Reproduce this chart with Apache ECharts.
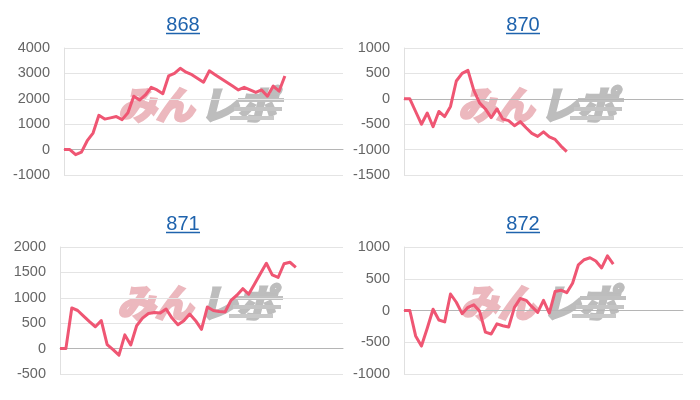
<!DOCTYPE html>
<html>
<head>
<meta charset="utf-8">
<script src="https://cdn.jsdelivr.net/npm/echarts@6/dist/echarts.min.js"></script>
<style>
html,body{margin:0;padding:0;background:#fff;}
#chart{width:700px;height:400px;}
</style>
</head>
<body>
<div id="chart"></div>
<script>
// ---- data ----
const categories = ['1','2','3','4','5','6','7','8','9','10','11','12','13','14','15','16','17','18','19','20','21','22','23','24','25','26','27','28','29','30','31','32','33','34','35','36','37','38','39','40','41','42','43','44','45','46','47','48','49'];
const titles = ['868', '870', '871', '872'];
const series868 = [0,0,-200,-100,350,650,1350,1200,1250,1300,1180,1450,2100,1950,2150,2450,2350,2200,2900,3000,3200,3050,2950,2800,2650,3100,2950,2800,2650,2500,2350,2450,2350,2250,2350,2100,2500,2300,2900];
const series870 = [0,0,-250,-500,-280,-550,-250,-350,-150,350,500,560,170,-80,-200,-370,-200,-400,-430,-530,-450,-570,-680,-740,-650,-750,-800,-930,-1040];
const series871 = [0,0,800,750,640,530,430,550,80,-20,-130,270,70,450,600,690,710,700,780,600,470,550,680,550,380,820,750,730,720,950,1050,1180,1070,1270,1480,1680,1450,1400,1670,1700,1600];
const series872 = [0,0,-400,-560,-280,20,-150,-180,260,130,-50,50,90,-10,-340,-370,-210,-240,-260,50,190,160,60,-30,160,-40,300,320,280,430,720,800,830,780,670,860,730];
const yMin = [-1000, -1500, -500, -1000];
const yMax = [4000, 1000, 2000, 1000];
const yStep = [1000, 500, 500, 500];

const allSeries = [series868, series870, series871, series872];

// ---- layout ----
const grids = [
  {left: 64, top: 48, width: 279, height: 127},
  {left: 404, top: 48, width: 279, height: 127},
  {left: 60, top: 247, width: 283, height: 127},
  {left: 404, top: 247, width: 279, height: 127}
];
const titlePos = [
  {x: 183, y: 25, ux1: 166, ux2: 200, uy: 33.5},
  {x: 523, y: 25, ux1: 506, ux2: 540, uy: 33.5},
  {x: 183, y: 224, ux1: 166, ux2: 200, uy: 232.5},
  {x: 523, y: 224, ux1: 506, ux2: 540, uy: 232.5}
];
const wmPos = [
  {x: 118, y: 90},
  {x: 458, y: 90},
  {x: 117, y: 288},
  {x: 460, y: 288}
];

const FONT = '"Liberation Sans", Arial, sans-serif';
const LINE_COLOR = '#ef5673';
const TITLE_COLOR = '#1f63ad';
const WM_FONT = 'italic bold 38px "Noto Sans CJK JP"';

const graphics = [];
titles.forEach((t, i) => {
  const p = titlePos[i];
  graphics.push({
    type: 'text', z: 10,
    style: {x: p.x, y: p.y, text: t, fill: TITLE_COLOR, font: '20px ' + FONT, textAlign: 'center', textVerticalAlign: 'middle'}
  });
  graphics.push({
    type: 'line', z: 10,
    shape: {x1: p.ux1, y1: p.uy, x2: p.ux2, y2: p.uy},
    style: {stroke: TITLE_COLOR, lineWidth: 1.5}
  });
});

wmPos.forEach((p) => {
  graphics.push({
    type: 'group', x: p.x, y: p.y, z: 0, silent: true,
    children: [
      {type: 'text', z: 0, style: {x: 0, y: 15, text: 'みん', fill: '#ecb8be', stroke: '#ecb8be', lineWidth: 3, font: WM_FONT, textVerticalAlign: 'middle'}},
      {type: 'text', z: 0, style: {x: 82, y: 15, text: 'レポ', fill: '#bdbdbd', stroke: '#bdbdbd', lineWidth: 3, font: WM_FONT, textVerticalAlign: 'middle'}},
      {type: 'rect', z: 0, shape: {x: 120, y: 8, width: 46, height: 4}, style: {fill: '#c0c0c0'}},
      {type: 'rect', z: 0, shape: {x: 116, y: 17, width: 48, height: 4}, style: {fill: '#c4c4c4'}},
      {type: 'rect', z: 0, shape: {x: 112, y: 26, width: 44, height: 4}, style: {fill: '#c8c8c8'}}
    ]
  });
});

const option = {
  animation: false,
  backgroundColor: '#fff',
  grid: grids,
  xAxis: grids.map((g, i) => ({
    type: 'category', gridIndex: i, data: categories, boundaryGap: false,
    axisLabel: {show: false}, axisTick: {show: false},
    axisLine: {show: true, onZero: true, lineStyle: {color: '#b5b5b5', width: 1}},
    splitLine: {show: false}
  })),
  yAxis: grids.map((g, i) => ({
    type: 'value', gridIndex: i, min: yMin[i], max: yMax[i], interval: yStep[i],
    axisLine: {show: true, lineStyle: {color: '#e0e0e0'}},
    axisTick: {show: false},
    axisLabel: {color: '#666', fontSize: 14.5, fontFamily: FONT, margin: 14, formatter: (v) => String(v)},
    splitLine: {show: true, lineStyle: {color: '#e4e4e4', width: 1}}
  })),
  series: allSeries.map((d, i) => ({
    type: 'line', xAxisIndex: i, yAxisIndex: i, data: d,
    showSymbol: false, symbol: 'none', smooth: false, z: 5,
    lineStyle: {color: LINE_COLOR, width: 3, join: 'round'}
  })),
  graphic: graphics
};

const chart = echarts.init(document.getElementById('chart'), null, {renderer: 'canvas'});
chart.setOption(option);
</script>
</body>
</html>
